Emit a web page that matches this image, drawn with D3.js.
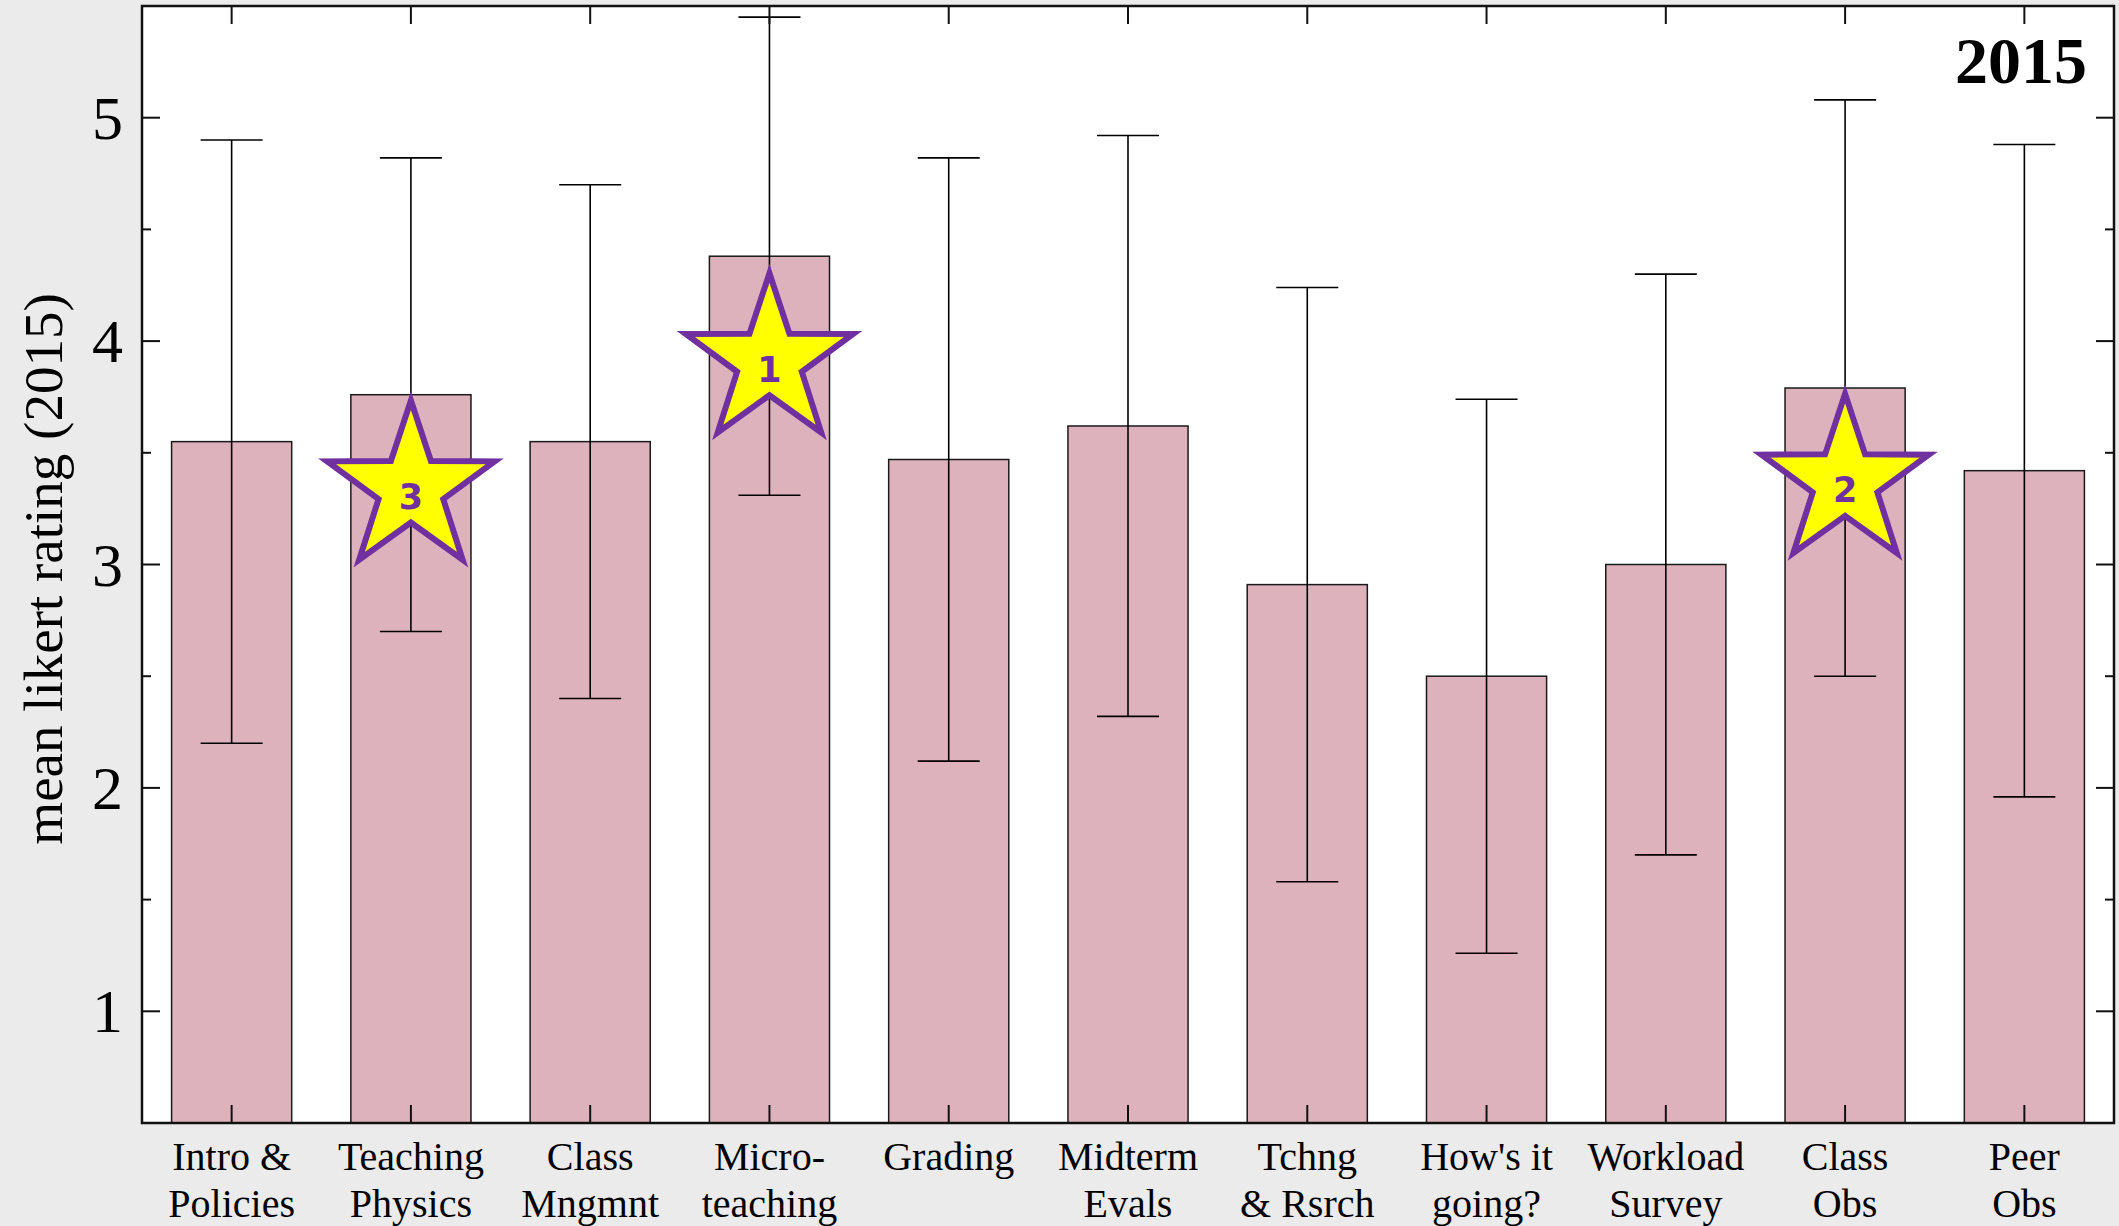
<!DOCTYPE html>
<html lang="en">
<head>
    <meta charset="UTF-8">
    <title>mean likert rating (2015)</title>
    <script src="https://d3js.org/d3.v7.min.js"></script>
    <style>
        html, body {
            margin: 0;
            padding: 0;
            background: #ebebeb;
        }
        svg {
            display: block;
        }
        text {
            font-family: "Liberation Serif", "Times New Roman", serif;
        }
    </style>
</head>
<body>
<svg width="2119" height="1226"></svg>

<script>

    // data
    var categories = ['Intro &\nPolicies', 'Teaching\nPhysics', 'Class\nMngmnt', 'Micro-\nteaching',
        'Grading', 'Midterm\nEvals', 'Tchng\n& Rsrch', "How's it\ngoing?", 'Workload\nSurvey',
        'Class\nObs', 'Peer\nObs'];
    var means = [3.55, 3.76, 3.55, 4.38, 3.47, 3.62, 2.91, 2.50, 3.00, 3.79, 3.42];
    var errors = [1.35, 1.06, 1.15, 1.07, 1.35, 1.30, 1.33, 1.24, 1.30, 1.29, 1.46];

    // ranked stars: category index, rank, vertical position (rating units)
    var starIndex = [3, 9, 1];
    var starRank = ['1', '2', '3'];
    var starValue = [3.91, 3.37, 3.34];

    var yTicks = [1, 2, 3, 4, 5];
    var yMinorTicks = [1.5, 2.5, 3.5, 4.5];

    var svg = d3.select('svg');
    var margin = {left: 142, top: 6, right: 5, bottom: 103};
    var width = +svg.attr('width') - margin.left - margin.right;
    var height = +svg.attr('height') - margin.top - margin.bottom;

    var x = d3.scaleBand()
            .domain(d3.range(categories.length))
            .range([0, width])
            .paddingInner(0.33)
            .paddingOuter(0.165);

    var y = d3.scaleLinear()
            .domain([0.5, 5.5])
            .range([height, 0]);

    var g = svg.append('g')
            .attr('transform', 'translate(' + margin.left + ',' + margin.top + ')');

    g.append('rect')
            .attr('width', width)
            .attr('height', height)
            .attr('fill', '#ffffff');

    // bars
    g.selectAll('.bar')
            .data(means)
            .enter().append('rect')
            .attr('class', 'bar')
            .attr('x', function (d, i) { return x(i); })
            .attr('y', function (d) { return y(d); })
            .attr('width', x.bandwidth())
            .attr('height', function (d) { return height - y(d); })
            .attr('fill', '#deb2bd')
            .attr('stroke', '#1a1a1a')
            .attr('stroke-width', 1.5);

    // error bars
    var cap = 31;
    var eb = g.selectAll('.err')
            .data(means)
            .enter().append('g')
            .attr('class', 'err')
            .attr('transform', function (d, i) { return 'translate(' + (x(i) + x.bandwidth() / 2) + ',0)'; })
            .attr('stroke', '#000')
            .attr('stroke-width', 1.6);

    eb.append('line')
            .attr('y1', function (d, i) { return y(d + errors[i]); })
            .attr('y2', function (d, i) { return y(d - errors[i]); });
    eb.append('line')
            .attr('x1', -cap).attr('x2', cap)
            .attr('y1', function (d, i) { return y(d + errors[i]); })
            .attr('y2', function (d, i) { return y(d + errors[i]); });
    eb.append('line')
            .attr('x1', -cap).attr('x2', cap)
            .attr('y1', function (d, i) { return y(d - errors[i]); })
            .attr('y2', function (d, i) { return y(d - errors[i]); });

    // stars
    function starPath(R, r) {
        var pts = [];
        for (var k = 0; k < 10; k++) {
            var a = -Math.PI / 2 + k * Math.PI / 5;
            var rad = k % 2 ? r : R;
            pts.push([rad * Math.cos(a), rad * Math.sin(a)]);
        }
        return 'M' + pts.join('L') + 'Z';
    }

    var stars = g.selectAll('.star')
            .data(starIndex)
            .enter().append('g')
            .attr('class', 'star')
            .attr('transform', function (d, k) {
                return 'translate(' + (x(d) + x.bandwidth() / 2) + ',' + y(starValue[k]) + ')';
            });

    stars.append('path')
            .attr('d', starPath(88, 34))
            .attr('fill', '#ffff00')
            .attr('stroke', '#7030a0')
            .attr('stroke-width', 6)
            .attr('stroke-linejoin', 'miter');

    stars.append('text')
            .attr('y', 8)
            .attr('dy', '0.36em')
            .attr('text-anchor', 'middle')
            .style('font-family', '"DejaVu Sans", sans-serif')
            .style('font-weight', 'bold')
            .style('font-size', '35px')
            .attr('fill', '#7030a0')
            .text(function (d, k) { return starRank[k]; });

    // ticks (inward, mirrored)
    var ticks = g.append('g')
            .attr('stroke', '#111')
            .attr('stroke-width', 2);

    yTicks.forEach(function (t) {
        ticks.append('line').attr('x1', 0).attr('x2', 18).attr('y1', y(t)).attr('y2', y(t));
        ticks.append('line').attr('x1', width).attr('x2', width - 18).attr('y1', y(t)).attr('y2', y(t));
    });
    yMinorTicks.forEach(function (t) {
        ticks.append('line').attr('x1', 0).attr('x2', 9).attr('y1', y(t)).attr('y2', y(t));
        ticks.append('line').attr('x1', width).attr('x2', width - 9).attr('y1', y(t)).attr('y2', y(t));
    });
    categories.forEach(function (c, i) {
        var cx = x(i) + x.bandwidth() / 2;
        ticks.append('line').attr('x1', cx).attr('x2', cx).attr('y1', height).attr('y2', height - 18);
        ticks.append('line').attr('x1', cx).attr('x2', cx).attr('y1', 0).attr('y2', 18);
    });

    g.append('rect')
            .attr('width', width)
            .attr('height', height)
            .attr('fill', 'none')
            .attr('stroke', '#111')
            .attr('stroke-width', 2.5);

    // y tick labels
    g.selectAll('.ylab')
            .data(yTicks)
            .enter().append('text')
            .attr('class', 'ylab')
            .attr('x', -19)
            .attr('y', function (d) { return y(d); })
            .attr('dy', '0.34em')
            .attr('text-anchor', 'end')
            .style('font-size', '62px')
            .text(function (d) { return d; });

    // category labels
    var xl = g.selectAll('.xlab')
            .data(categories)
            .enter().append('text')
            .attr('class', 'xlab')
            .attr('text-anchor', 'middle')
            .style('font-size', '40px')
            .attr('transform', function (d, i) {
                return 'translate(' + (x(i) + x.bandwidth() / 2) + ',' + (height + 47) + ')';
            });
    xl.selectAll('tspan')
            .data(function (d) { return d.split('\n'); })
            .enter().append('tspan')
            .attr('x', 0)
            .attr('y', function (d, j) { return j * 47; })
            .text(function (d) { return d; });

    // axis title
    svg.append('text')
            .attr('transform', 'translate(62,' + (margin.top + y(2.98)) + ') rotate(-90)')
            .attr('text-anchor', 'middle')
            .style('font-size', '55px')
            .text('mean likert rating (2015)');

    // year label
    g.append('text')
            .attr('x', width - 27)
            .attr('y', 77)
            .attr('text-anchor', 'end')
            .style('font-size', '66px')
            .style('font-weight', 'bold')
            .text('2015');

</script>
</body>
</html>
